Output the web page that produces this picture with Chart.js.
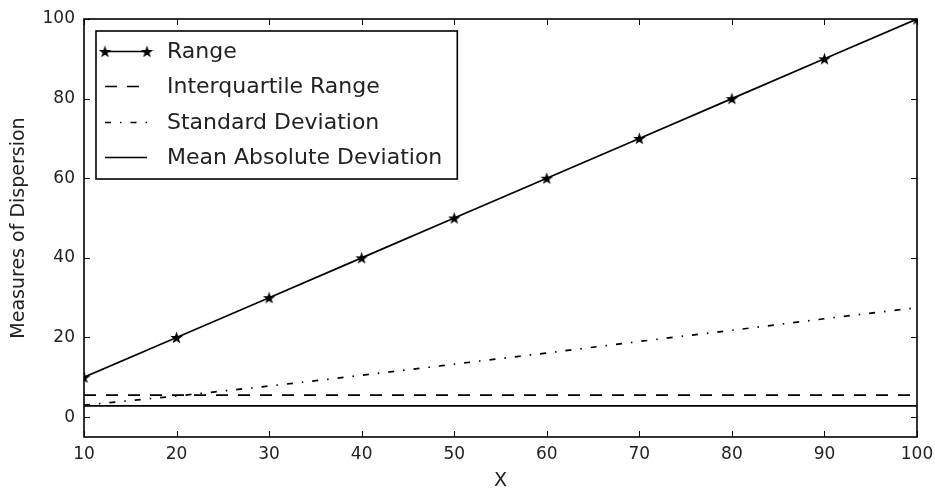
<!DOCTYPE html>
<html>
<head>
<meta charset="utf-8">
<script src="https://cdn.jsdelivr.net/npm/chart.js@4.4.0/dist/chart.umd.min.js"></script>
<style>
  html, body { margin: 0; padding: 0; background: #fff; }
</style>
</head>
<body>
<canvas id="myChart" width="935" height="491"></canvas>
<script>
// data
const xValues = [10, 20, 30, 40, 50, 60, 70, 80, 90, 100];
const rangeValues = [10, 20, 30, 40, 50, 60, 70, 80, 90, 100];
const iqrValues = [5.5, 5.5, 5.5, 5.5, 5.5, 5.5, 5.5, 5.5, 5.5, 5.5];
const sdValues = [3.0, 5.3, 7.8, 10.5, 13.3, 16.1, 19.0, 21.8, 24.7, 27.5];
const madValues = [2.8, 2.8, 2.8, 2.8, 2.8, 2.8, 2.8, 2.8, 2.8, 2.8];

const xTicks = [10, 20, 30, 40, 50, 60, 70, 80, 90, 100];
const yTicks = [0, 20, 40, 60, 80, 100];

const FONT = "'DejaVu Sans', sans-serif";

// filled five point star, like the matplotlib '*' marker
function makeStar(size) {
  const c = document.createElement("canvas");
  c.width = size;
  c.height = size;
  const g = c.getContext("2d");
  const r = size / 2;
  g.beginPath();
  for (let i = 0; i < 10; i++) {
    const rad = i % 2 === 0 ? r : r * 0.4;
    const ang = -Math.PI / 2 + (i * Math.PI) / 5;
    const px = r + rad * Math.cos(ang);
    const py = r + rad * Math.sin(ang) + 0.6;
    if (i === 0) g.moveTo(px, py);
    else g.lineTo(px, py);
  }
  g.closePath();
  g.fillStyle = "#000";
  g.fill();
  return c;
}
const star = makeStar(13);

function pts(ys) {
  return xValues.map((x, i) => ({ x: x, y: ys[i] }));
}

const data = {
  datasets: [
    {
      label: "Range",
      data: pts(rangeValues),
      borderColor: "#000",
      borderWidth: 1.7,
      pointStyle: star,
      pointRadius: 6,
      order: 0,
    },
    {
      label: "Interquartile Range",
      data: pts(iqrValues),
      borderColor: "#000",
      borderWidth: 1.7,
      borderDash: [12, 10],
      pointRadius: 0,
      order: 2,
    },
    {
      label: "Standard Deviation",
      data: pts(sdValues),
      borderColor: "#000",
      borderWidth: 1.7,
      borderDash: [6, 9, 1.5, 9],
      pointRadius: 0,
      order: 1,
    },
    {
      label: "Mean Absolute Deviation",
      data: pts(madValues),
      borderColor: "#000",
      borderWidth: 1.7,
      pointRadius: 0,
      order: 3,
    },
  ],
};

// inward ticks on all four sides + the frame
const frameTicks = {
  id: "frameTicks",
  afterDatasetsDraw(chart) {
    const { ctx, chartArea: a, scales } = chart;
    ctx.save();
    ctx.strokeStyle = "#000";
    ctx.lineWidth = 1;
    ctx.beginPath();
    scales.x.ticks.forEach((t) => {
      const px = Math.round(scales.x.getPixelForValue(t.value)) + 0.5;
      ctx.moveTo(px, a.bottom);
      ctx.lineTo(px, a.bottom - 6);
      ctx.moveTo(px, a.top);
      ctx.lineTo(px, a.top + 6);
    });
    scales.y.ticks.forEach((t) => {
      const py = Math.round(scales.y.getPixelForValue(t.value)) + 0.5;
      ctx.moveTo(a.left, py);
      ctx.lineTo(a.left + 6, py);
      ctx.moveTo(a.right, py);
      ctx.lineTo(a.right - 6, py);
    });
    ctx.stroke();
    ctx.lineWidth = 1.6;
    ctx.strokeRect(a.left, a.top, a.right - a.left, a.bottom - a.top);
    ctx.restore();
  },
};

// legend box in the upper left of the plot
const boxLegend = {
  id: "boxLegend",
  afterDraw(chart) {
    const { ctx, chartArea: a } = chart;
    const sets = chart.data.datasets;
    ctx.save();
    ctx.font = "22px " + FONT;
    let maxW = 0;
    sets.forEach((d) => (maxW = Math.max(maxW, ctx.measureText(d.label).width)));
    const bx = a.left + 12;
    const by = a.top + 12;
    const bw = 71 + maxW + 15;
    const bh = 148;
    ctx.fillStyle = "#fff";
    ctx.fillRect(bx, by, bw, bh);
    ctx.strokeStyle = "#000";
    ctx.lineWidth = 1.6;
    ctx.strokeRect(bx, by, bw, bh);
    sets.forEach((d, i) => {
      const cy = Math.round(by + 19.7 + i * 35.4) + 0.5;
      ctx.beginPath();
      ctx.setLineDash(d.borderDash || []);
      ctx.lineWidth = d.borderWidth;
      ctx.moveTo(bx + 9, cy);
      ctx.lineTo(bx + 51, cy);
      ctx.stroke();
      ctx.setLineDash([]);
      if (d.pointRadius > 0) {
        ctx.drawImage(d.pointStyle, bx + 9 - 6.5, cy - 6.5);
        ctx.drawImage(d.pointStyle, bx + 51 - 6.5, cy - 6.5);
      }
      ctx.fillStyle = "#222";
      ctx.textBaseline = "middle";
      ctx.fillText(d.label, bx + 71, cy + 1);
    });
    ctx.restore();
  },
};

const config = {
  type: "line",
  data: data,
  options: {
    responsive: false,
    animation: false,
    layout: { padding: { left: 0, right: 18, top: 19, bottom: 0 } },
    plugins: {
      legend: { display: false },
      tooltip: { enabled: false },
    },
    scales: {
      x: {
        type: "linear",
        min: 10,
        max: 100,
        afterBuildTicks: (s) => (s.ticks = xTicks.map((v) => ({ value: v }))),
        afterFit: (s) => {
          s.height = 54;
          s.paddingLeft = 0;
          s.paddingRight = 0;
        },
        grid: { display: false, drawTicks: false },
        border: { display: false },
        ticks: { color: "#222", padding: 7, maxRotation: 0, font: { family: FONT, size: 17 } },
        title: {
          display: true,
          text: "X",
          color: "#222",
          padding: { top: 0, bottom: -1 },
          font: { family: FONT, size: 19 },
        },
      },
      y: {
        type: "linear",
        min: -5,
        max: 100,
        afterBuildTicks: (s) => (s.ticks = yTicks.map((v) => ({ value: v }))),
        afterFit: (s) => {
          s.width = 84;
          s.paddingTop = 0;
          s.paddingBottom = 0;
        },
        grid: { display: false, drawTicks: false },
        border: { display: false },
        ticks: { color: "#222", padding: 9, font: { family: FONT, size: 17 } },
        title: {
          display: true,
          text: "Measures of Dispersion",
          color: "#222",
          padding: { top: 8, bottom: 0 },
          font: { family: FONT, size: 19 },
        },
      },
    },
  },
  plugins: [frameTicks, boxLegend],
};

const myChart = new Chart(document.getElementById("myChart"), config);
</script>
</body>
</html>
